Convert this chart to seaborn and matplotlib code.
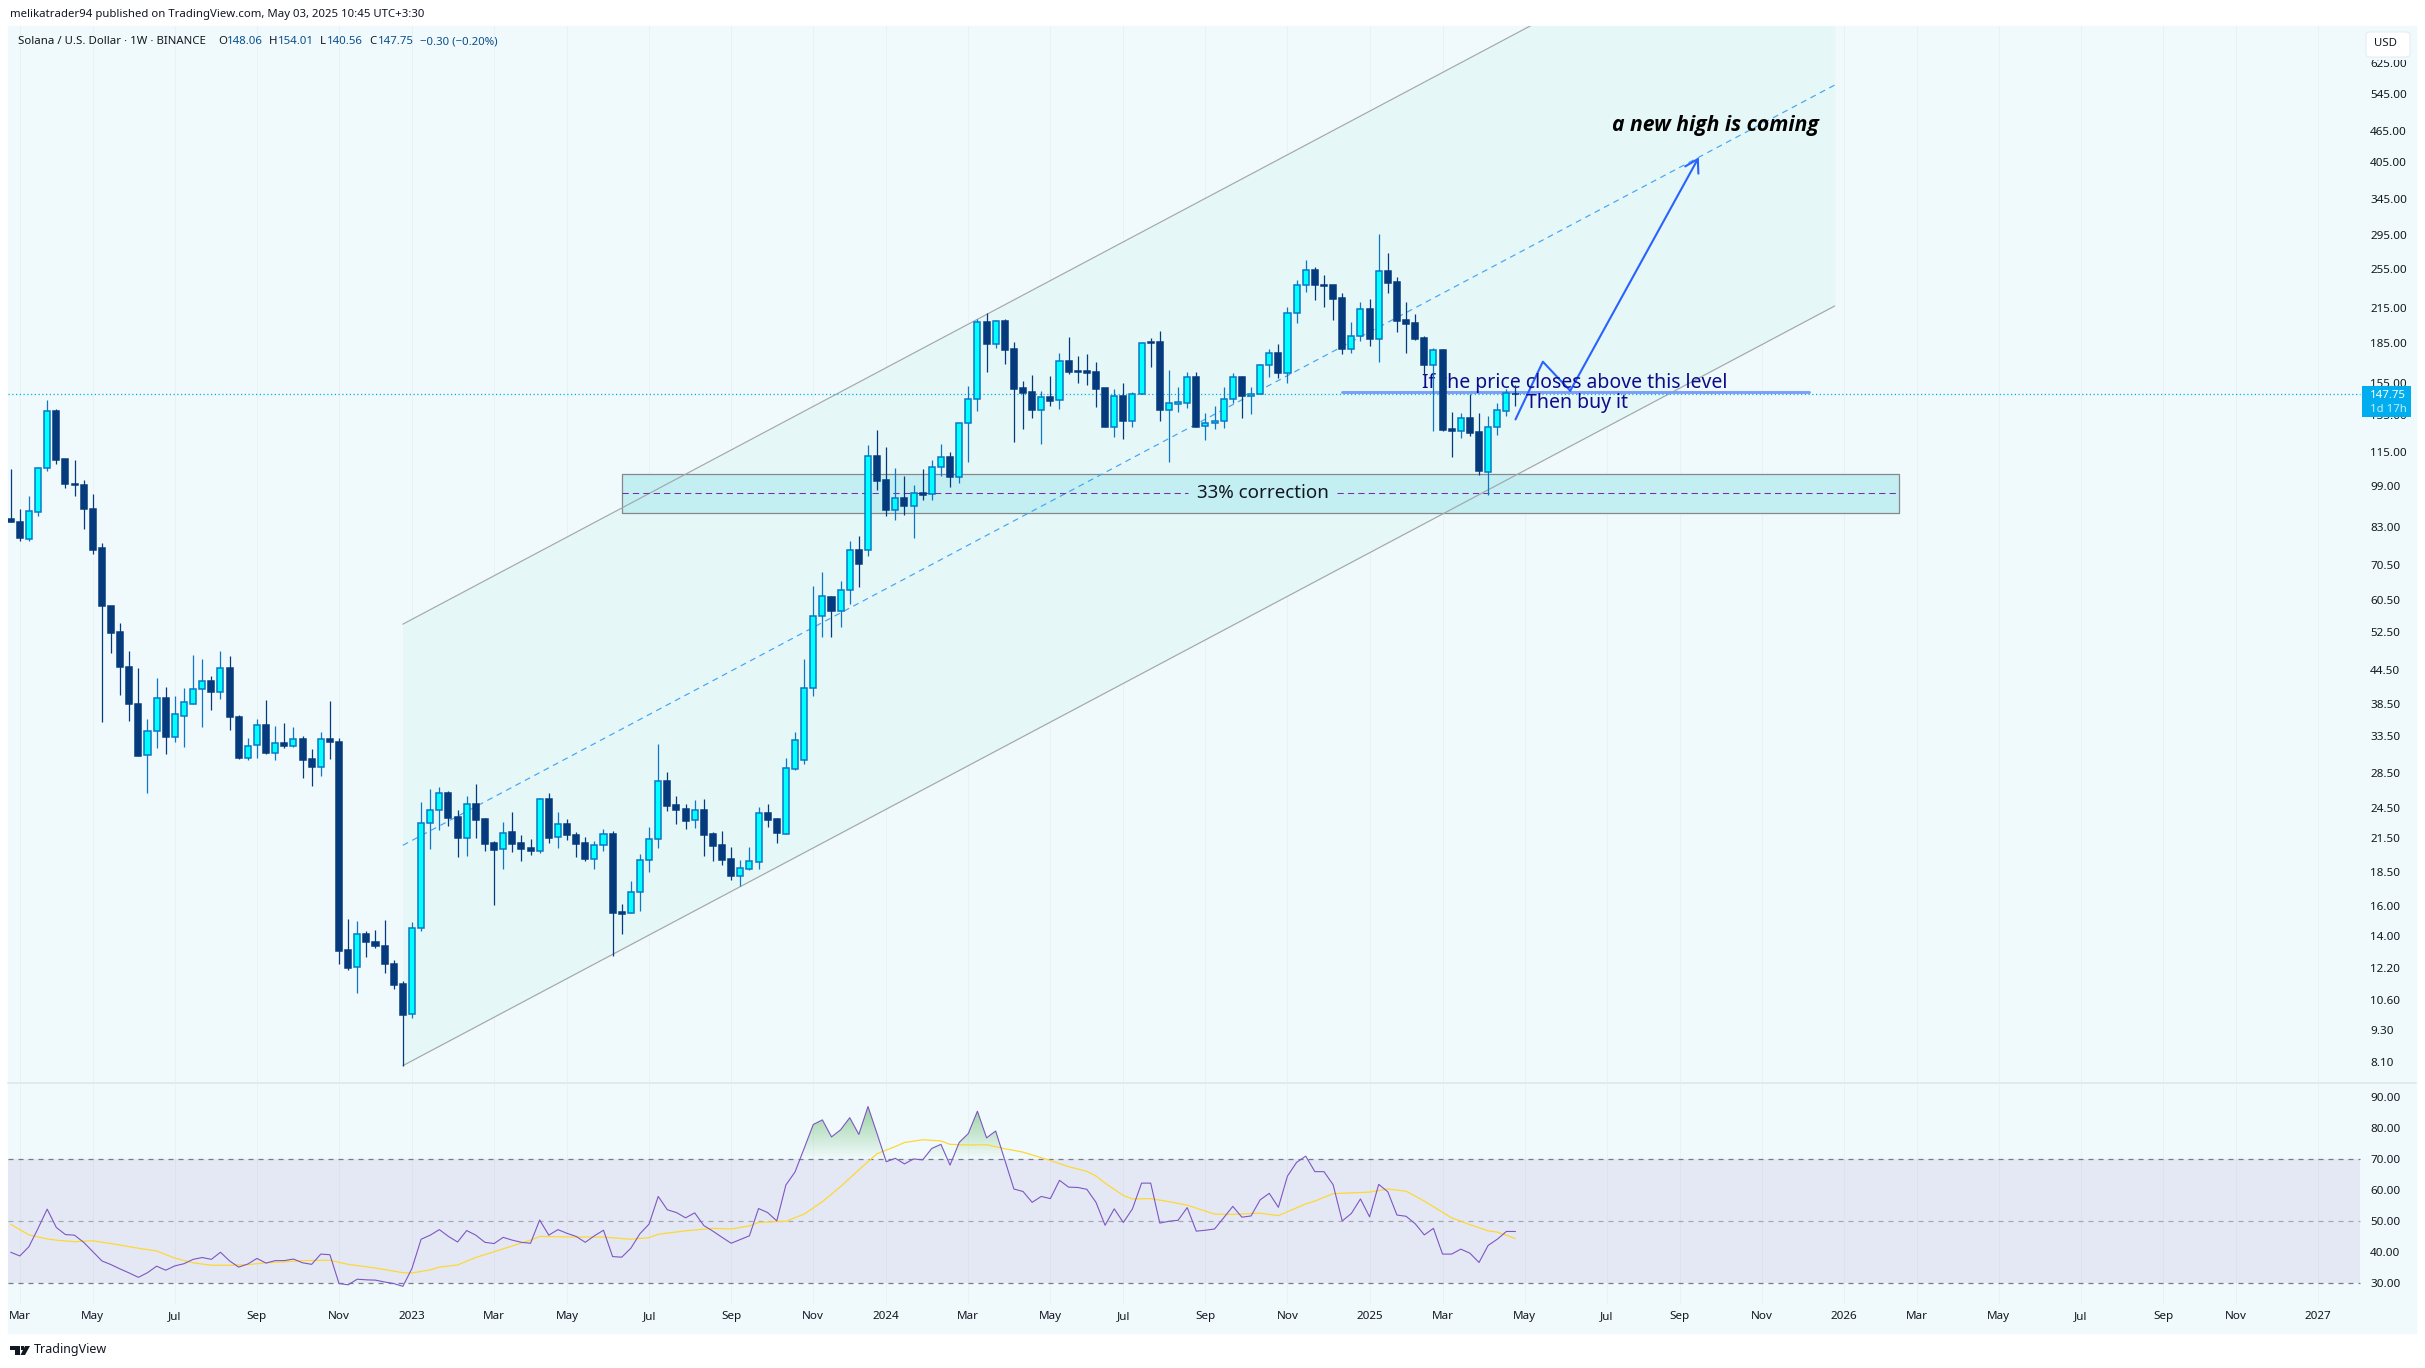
import numpy as np
import pandas as pd
import matplotlib
matplotlib.use("Agg")
import matplotlib.pyplot as plt
from matplotlib.patches import Rectangle, FancyBboxPatch, Polygon
from matplotlib.path import Path
import seaborn as sns

# weekly candles, Feb 28 2022 -> Apr 28 2025
opens = [86.01,84.69,78.67,88.73,107.11,137.58,111.35,100.27,99.49,89.94,75.67,58.80,52.54,45.07,38.51,30.75,34.14,39.42,33.36,36.54,38.51,40.98,42.44,40.58,44.89,36.40,30.45,32.21,35.02,31.11,32.40,32.09,32.97,30.21,29.29,32.97,32.65,13.17,12.23,14.12,13.69,13.40,
         12.40,11.38,10.00,14.50,22.88,24.21,26.07,23.49,21.50,24.85,23.28,20.98,20.50,22.01,20.98,20.53,20.32,25.40,21.53,22.78,21.75,20.98,19.62,20.86,21.85,15.56,15.47,16.95,19.48,21.35,27.47,24.75,24.32,23.18,24.21,21.81,20.80,19.57,18.23,18.79,19.37,23.90,
         23.28,21.88,28.98,30.14,41.15,56.28,61.13,57.52,63.02,74.99,74.95,112.79,101.62,89.45,93.97,91.02,96.03,95.62,107.53,112.31,103.25,130.58,144.52,201.98,184.09,202.86,179.61,151.82,148.98,137.77,145.99,143.89,170.73,163.46,163.46,162.75,151.82,128.32,146.63,131.72,147.69,185.43,
         185.43,138.17,141.41,142.44,159.02,128.97,130.29,131.42,144.62,159.13,146.52,147.79,167.66,176.63,162.39,210.19,237.40,253.40,237.40,237.40,224.35,180.26,190.19,213.87,188.27,252.30,240.51,203.89,201.24,188.54,168.14,178.95,126.93,126.20,133.15,125.47,105.59,128.41,137.66,148.06]
highs = [106.90,89.94,94.78,107.73,144.14,138.66,111.78,111.13,102.03,95.89,77.45,58.80,54.62,48.42,44.98,36.05,43.02,41.38,39.80,41.22,47.58,46.76,43.44,48.42,47.40,36.69,33.16,36.05,39.11,34.95,35.43,34.81,33.42,31.59,34.08,38.96,33.16,15.11,14.94,14.31,14.39,15.02,
         12.61,11.53,14.90,25.11,26.57,26.80,26.34,24.25,25.77,27.15,23.42,21.19,23.02,24.04,21.75,21.38,25.55,26.11,24.04,23.32,22.04,21.56,21.19,22.33,22.13,16.11,17.81,20.03,22.52,32.31,28.61,25.77,24.89,25.33,25.44,22.04,22.13,20.65,19.51,20.65,24.57,24.89,
         23.42,30.40,34.04,46.75,64.22,68.25,61.48,65.63,78.09,79.81,118.32,126.48,117.47,107.22,103.55,99.58,106.75,110.85,119.01,114.94,130.20,153.14,204.63,210.35,204.04,204.93,185.43,156.51,160.64,149.85,159.95,176.77,189.50,174.48,176.00,169.99,151.82,151.16,155.15,149.20,185.43,188.68,
         194.51,164.18,152.48,162.75,162.75,136.08,140.48,152.36,161.92,159.83,152.36,168.39,179.73,183.68,215.74,242.97,264.66,257.10,248.31,237.74,229.28,202.41,220.48,223.70,296.76,273.23,246.16,220.48,209.58,190.46,180.78,179.99,136.87,136.27,147.79,136.27,134.51,142.33,151.26,154.01]
lows = [84.69,78.21,78.21,87.19,105.66,109.00,98.53,94.96,82.42,73.93,35.56,48.05,39.96,35.70,30.63,26.07,31.78,30.99,32.53,31.90,38.51,34.81,37.48,39.34,34.34,30.33,30.16,30.39,30.93,30.16,31.78,31.96,27.85,26.94,28.12,30.27,12.42,12.09,10.95,12.81,13.32,11.95,
        11.16,7.98,9.83,14.33,20.47,22.23,22.62,19.77,19.85,21.47,20.29,16.07,18.76,20.20,19.43,19.94,20.11,21.01,20.56,21.28,19.77,19.43,18.76,20.29,12.85,14.14,15.47,15.63,18.52,20.56,24.14,22.82,22.33,22.42,19.85,19.43,19.09,17.89,17.43,18.68,18.76,22.52,
        21.01,21.88,28.86,29.57,39.81,51.52,51.52,53.81,59.47,64.03,73.02,97.44,87.02,85.52,87.40,79.08,93.29,93.29,103.55,98.72,100.45,110.05,137.57,162.75,180.65,168.51,120.05,127.03,133.25,119.01,140.39,138.57,161.34,155.15,153.81,139.78,128.32,122.69,121.62,128.14,147.69,166.33,
        131.52,110.05,136.77,139.17,128.32,121.18,127.12,127.67,142.54,133.34,135.68,147.79,159.36,158.67,155.26,201.54,230.62,222.73,216.06,204.18,176.12,176.89,186.37,182.36,170.10,229.61,193.80,176.89,187.18,161.46,126.20,126.02,112.55,122.24,123.31,104.07,95.41,123.84,134.51,140.56]
closes = [84.69,78.97,88.90,107.11,137.32,111.13,100.27,99.49,89.94,75.23,58.80,52.43,45.07,38.51,30.63,34.14,39.42,33.36,36.76,38.74,40.98,42.44,40.58,44.89,36.40,30.45,32.09,35.02,31.05,32.40,32.03,32.97,30.16,29.29,32.97,32.65,13.14,12.21,14.12,13.69,13.42,12.40,
          11.34,9.96,14.50,22.88,24.21,26.07,23.45,21.50,24.85,23.25,20.95,20.41,21.91,20.95,20.50,20.32,25.40,21.50,22.78,21.75,20.95,19.62,20.80,21.81,15.52,15.45,16.95,19.48,21.35,27.47,24.71,24.25,23.15,24.21,21.78,20.77,19.54,18.23,18.82,19.40,23.90,23.22,
          21.97,29.06,32.83,41.15,56.28,61.40,57.69,63.02,74.99,70.76,112.79,101.47,89.32,93.97,90.89,96.03,95.48,107.53,112.31,103.25,130.20,144.52,201.98,184.09,202.86,179.35,151.38,148.77,138.17,145.78,143.68,170.48,162.75,162.75,162.28,151.38,128.32,146.41,131.72,147.69,184.36,184.89,
          138.17,142.03,142.64,159.02,128.32,130.29,131.42,144.62,159.13,146.52,147.79,167.66,176.63,162.39,210.19,237.40,253.40,237.40,236.71,223.70,180.26,190.19,213.87,188.27,252.30,239.82,203.30,200.66,187.99,167.90,178.95,126.56,126.20,133.15,124.92,105.90,128.41,137.86,148.44,147.75]

rsi = [40.0,38.8,41.8,47.7,53.9,48.0,45.7,45.5,43.2,40.2,37.2,36.0,34.6,33.3,31.9,33.4,35.5,34.2,35.6,36.3,37.7,38.3,37.7,40.0,37.2,35.2,36.2,38.0,36.5,37.3,37.3,37.8,36.6,36.1,39.4,39.2,29.9,29.5,31.3,31.1,31.0,30.4,29.9,29.0,34.8,44.2,45.5,47.3,45.1,43.3,47.0,45.5,43.2,42.8,44.8,43.9,43.2,42.9,50.4,45.5,47.3,46.1,45.1,43.2,45.3,47.1,38.6,38.4,41.3,46.0,49.1,58.0,53.7,52.8,51.1,52.7,48.6,46.8,44.8,42.9,44.1,45.3,54.1,52.8,50.1,61.7,65.9,
       73.5,81.2,82.7,77.2,79.5,83.4,78.0,87.0,78.2,69.2,70.3,68.5,70.1,69.8,73.5,74.8,68.1,75.4,78.3,85.5,76.9,79.1,69.8,60.4,59.6,56.1,58.0,57.3,63.2,61.0,60.9,60.3,56.1,48.7,54.0,49.6,54.0,62.3,62.3,49.4,50.0,50.3,54.4,46.8,47.1,47.5,51.1,54.8,51.3,51.7,56.9,59.0,54.5,64.6,69.0,71.0,66.0,66.0,61.8,50.1,52.5,57.2,51.4,61.9,59.5,52.0,51.6,49.2,45.6,47.7,39.4,39.4,41.0,39.7,36.7,42.2,44.2,46.7,46.7]

ma_weeks = [0,2,4,5,7,9,11,14,16,18,20,22,24,26,28,30,32,35,37,40,43,44,46,47,49,51,54,57,58,62,65,68,70,71,74,77,79,81,82,85,87,89,91,93,95,97,98,100,102,103,105,107,109,111,114,116,118,119,120,122,123,125,127,129,132,134,137,139,142,143,145,149,151,153,155,157,158,160,162,163,165]
ma_values = [49.0,45.6,44.3,43.9,43.4,43.7,42.8,41.3,40.4,38.1,36.6,35.8,35.8,36.0,36.6,36.9,37.3,37.4,36.1,34.9,33.4,33.3,34.3,35.2,35.9,38.3,41.1,43.9,45.1,44.9,44.9,44.2,44.7,45.8,46.9,47.7,47.5,48.5,49.6,50.0,52.3,56.3,61.2,66.6,71.8,74.1,75.4,76.3,75.9,74.8,74.6,74.7,73.4,72.3,69.6,67.6,66.1,64.6,62.3,58.3,57.2,57.3,56.3,55.2,52.3,52.2,52.6,51.8,55.6,56.5,58.9,59.4,60.4,59.7,56.5,52.9,51.1,48.9,46.9,46.5,44.4]

price_ticks = [625,545,465,405,345,295,255,215,185,155,135,115,99,83,70.5,60.5,52.5,44.5,38.5,33.5,28.5,24.5,21.5,18.5,16,14,12.2,10.6,9.3,8.1]
rsi_ticks = [90,80,70,60,50,40,30]

first_bar = pd.Timestamp("2022-02-28")
tick_dates = ["2022-03-07","2022-05-02","2022-07-04","2022-09-05","2022-11-07","2023-01-02","2023-03-06","2023-05-01","2023-07-03","2023-09-04","2023-11-06","2024-01-01","2024-03-04","2024-05-06","2024-07-01","2024-09-02","2024-11-04","2025-01-06","2025-03-03","2025-05-05","2025-07-07","2025-09-01","2025-11-03","2026-01-05","2026-03-02","2026-05-04","2026-07-06","2026-09-07","2026-11-02","2027-01-04"]
tick_labels = ["Mar","May","Jul","Sep","Nov","2023","Mar","May","Jul","Sep","Nov","2024","Mar","May","Jul","Sep","Nov","2025","Mar","May","Jul","Sep","Nov","2026","Mar","May","Jul","Sep","Nov","2027"]

# drawings on the chart (week number, price)
channel_weeks = [43, 200]
channel_low = [7.98, 217]
channel_mid = [20.8, 567]
channel_high = [54.4, 1480]
zone_weeks = [67, 207]
zone_top, zone_bottom, zone_mid = 104.4, 88.4, 96.1
level_weeks = [146, 197.2]
level_price = 149.1
path_weeks = [165, 168, 171]
path_prices = [132.5, 170.3, 150.1]
arrow_tip = (185.1, 414.2)
last_price = 147.75

BG = "#F0F9FB"
W, H = 2425, 1368
PX_PER_WEEK = 9.12
FIRST_X = 10.7
PANE_END = 257.6  # week where the price scale starts

sns.set_theme(style="white", font="Noto Sans", rc={"axes.facecolor": "none", "figure.facecolor": "white"})
fig = plt.figure(figsize=(W / 100, H / 100), dpi=100)


def box(x0, y0, x1, y1):
    return [x0 / W, 1 - y1 / H, (x1 - x0) / W, (y1 - y0) / H]


fig.add_artist(Rectangle((8 / W, 1 - 1333 / H), 2408 / W, 1307 / H, transform=fig.transFigure, color=BG, zorder=-5))
ax = fig.add_axes(box(8, 26, 2416, 1083))
ax_rsi = fig.add_axes(box(8, 1083, 2416, 1304))

weeks = np.arange(len(closes))
opens = np.array(opens)
closes = np.array(closes)
highs = np.array(highs)
lows = np.array(lows)
rsi = np.array(rsi)
up = closes >= opens
xlim = ((8 - FIRST_X) / PX_PER_WEEK, (2416 - FIRST_X) / PX_PER_WEEK)
grid_weeks = [(pd.Timestamp(d) - first_bar).days // 7 for d in tick_dates]

# channel + zone + notes all sit under the candles
ax.set_yscale("log")
ax.fill_between(channel_weeks, channel_low, channel_high, color="#E6F7F7", lw=0, zorder=1)
ax.fill_between(zone_weeks, zone_bottom, zone_top, facecolor="#C3EEF2", edgecolor="#85898D", lw=0.9, zorder=1.5)
ax.plot(channel_weeks, channel_low, color="#A3A8A8", lw=0.85, zorder=2)
ax.plot(channel_weeks, channel_high, color="#A3A8A8", lw=0.85, zorder=2)
ax.plot(channel_weeks, channel_mid, color="#42A5F5", lw=0.85, dashes=(5, 4), zorder=2)
ax.plot([zone_weeks[0], 129.1], [zone_mid, zone_mid], color="#7B2CA8", lw=0.75, dashes=(6, 4), zorder=3)
ax.plot([145.4, zone_weeks[1]], [zone_mid, zone_mid], color="#7B2CA8", lw=0.75, dashes=(6, 4), zorder=3)
ax.hlines(last_price, xlim[0], PANE_END, color="#00AEEF", lw=0.9, linestyles=(0, (1, 2)), zorder=3)
ax.plot(level_weeks, [level_price, level_price], color="#7C9EF5", lw=2.1, zorder=3)
ax.plot(path_weeks, path_prices, color="#2962FF", lw=1.5, zorder=3)
ax.annotate("", xy=arrow_tip, xytext=(path_weeks[-1], path_prices[-1]), zorder=3,
            arrowprops=dict(arrowstyle="->,head_length=0.75,head_width=0.45", color="#2962FF", lw=1.5, shrinkA=0, shrinkB=0))

ax.text(137.3, zone_mid, "33% correction", fontsize=13.5, color="#131722", ha="center", va="center", zorder=3)
ax.text(154.75, 155.2, "If the price closes above this level", fontsize=14, color="#0C0C8A", va="center", zorder=3)
ax.text(166.2, 142.3, "Then buy it", fontsize=14, color="#0C0C8A", va="center", zorder=3)
ax.text(175.6, 476.6, "a new high is coming", fontsize=15.2, color="black", family="Open Sans", style="italic", weight="bold", va="center", zorder=3)

# candles
wick_col = np.where(up, "#0A78C6", "#053B7D")
ax.vlines(weeks, lows, highs, colors=wick_col, lw=0.9, zorder=4)
ax.bar(weeks[up], (closes - opens)[up], bottom=opens[up], width=0.66, color="#00FFFF", edgecolor="#0A78C6", lw=1.1, zorder=5)
ax.bar(weeks[~up], (opens - closes)[~up], bottom=closes[~up], width=0.66, color="#053B7D", edgecolor="#053B7D", lw=1.1, zorder=5)

ax.set_xlim(xlim)
ax.set_ylim(7.4, 733)
ax.set_yticks(price_ticks)
ax.set_yticklabels([f"{v:.2f}" for v in price_ticks])
ax.minorticks_off()
ax.set_xticks(grid_weeks)
ax.set_xticklabels([])
ax.tick_params(axis="both", length=0)
ax.tick_params(axis="y", left=False, labelleft=False, right=False, labelright=True, pad=-33, labelsize=8.4, labelcolor="#131722")
ax.grid(axis="x", color="#E8F1F3", lw=0.7, zorder=0)
ax.set_axisbelow(True)
sns.despine(ax=ax, top=True, left=True, right=True, bottom=False)
ax.spines["bottom"].set_color("#DCE6EA")
ax.spines["bottom"].set_linewidth(1.1)

# rsi pane
ax_rsi.fill_between([xlim[0], PANE_END], 30, 70, color="#7E57C2", alpha=0.1, lw=0, zorder=1)
ax_rsi.hlines([70, 30], xlim[0], PANE_END, color="#787B86", lw=0.9, linestyles=(0, (4, 4)), zorder=2)
ax_rsi.hlines(50, xlim[0], PANE_END, color="#A5A7B2", lw=0.9, linestyles=(0, (4, 4)), zorder=2)

hot = ax_rsi.fill_between(weeks, 70, rsi, where=rsi > 70, interpolate=True, color="none", lw=0)
fade = np.zeros((64, 1, 4))
fade[..., :3] = (0.30, 0.69, 0.31)
fade[:, 0, 3] = np.linspace(0.62, 0.0, 64)
glow = ax_rsi.imshow(fade, extent=(xlim[0], xlim[1], 70, 90), origin="upper", aspect="auto", zorder=2)
glow.set_clip_path(Path.make_compound_path(*hot.get_paths()), transform=ax_rsi.transData)

sns.lineplot(x=ma_weeks, y=ma_values, ax=ax_rsi, color="#FDD835", lw=0.9, estimator=None, zorder=3)
sns.lineplot(x=weeks, y=rsi, ax=ax_rsi, color="#7E57C2", lw=0.8, estimator=None, zorder=4)

ax_rsi.set_xlim(xlim)
ax_rsi.set_ylim(23.3, 94.6)
ax_rsi.set_yticks(rsi_ticks)
ax_rsi.set_yticklabels([f"{v:.2f}" for v in rsi_ticks])
ax_rsi.set_xticks(grid_weeks)
ax_rsi.set_xticklabels(tick_labels)
ax_rsi.tick_params(axis="both", length=0)
ax_rsi.tick_params(axis="y", left=False, labelleft=False, right=False, labelright=True, pad=-33, labelsize=8.4, labelcolor="#131722")
ax_rsi.tick_params(axis="x", pad=5, labelsize=8.4, labelcolor="#131722")
for lab, txt in zip(ax_rsi.get_xticklabels(), tick_labels):
    if txt.isdigit():
        lab.set_fontweight("bold")
ax_rsi.grid(axis="x", color="#E8F1F3", lw=0.7, zorder=0)
ax_rsi.set_axisbelow(True)
ax_rsi.set_xlabel("")
ax_rsi.set_ylabel("")
sns.despine(ax=ax_rsi, top=True, left=True, right=True, bottom=True)


# header, badges and footer are laid out in figure pixels
def ptext(x, y, s, **kw):
    kw.setdefault("fontsize", 8.2)
    kw.setdefault("color", "#131722")
    kw.setdefault("va", "center")
    return fig.text(x / W, 1 - y / H, s, zorder=8, **kw)


def pxy(pts):
    return [(x / W, 1 - y / H) for x, y in pts]


ptext(10, 15, "melikatrader94 published on TradingView.com, May 03, 2025 10:45 UTC+3:30")
ptext(18, 42, "Solana / U.S. Dollar · 1W · BINANCE")
for x, s in [(218, "O"), (269, "H"), (320, "L"), (369, "C")]:
    ptext(x, 42, s)
for x, s in [(227, "148.06"), (278, "154.01"), (327, "140.56"), (378, "147.75"), (420, "−0.30 (−0.20%)")]:
    ptext(x, 42, s, color="#0A4F8F")

# the USD button hides the top half of the 625 label
fig.add_artist(Rectangle((2362 / W, 1 - 60 / H), 49 / W, 34 / H, transform=fig.transFigure, color=BG, lw=0, zorder=6))
fig.add_artist(FancyBboxPatch((2366 / W, 1 - 57 / H), 44 / W, 25 / H, boxstyle="round,pad=0,rounding_size=0.002",
                              transform=fig.transFigure, facecolor="white", edgecolor="#E6EEF1", lw=0.8, zorder=7))
ptext(2374, 44, "USD", color="#131722")
fig.add_artist(Rectangle((2362 / W, 1 - 417 / H), 49 / W, 31 / H, transform=fig.transFigure, color="#00AEEF", lw=0, zorder=7))
ptext(2370, 395, "147.75", color="white", weight="bold")
ptext(2370, 409, "1d 17h", color="#C4EBFA", weight="bold")

# tradingview logo
fig.add_artist(Polygon(pxy([(10, 1346), (20, 1346), (20, 1355), (15, 1355), (15, 1350), (10, 1350)]), transform=fig.transFigure, color="#131722", lw=0, zorder=8))
fig.add_artist(Polygon(pxy([(25, 1346), (30, 1346), (25, 1355), (20.5, 1355)]), transform=fig.transFigure, color="#131722", lw=0, zorder=8))
fig.add_artist(Polygon(pxy([(20.5, 1346), (23.5, 1346), (23.5, 1349.5), (20.5, 1349.5)]), transform=fig.transFigure, color="#131722", lw=0, zorder=8))
ptext(34, 1350, "TradingView", fontsize=9.0, color="#131722")

fig.savefig("out.png", dpi=100)
